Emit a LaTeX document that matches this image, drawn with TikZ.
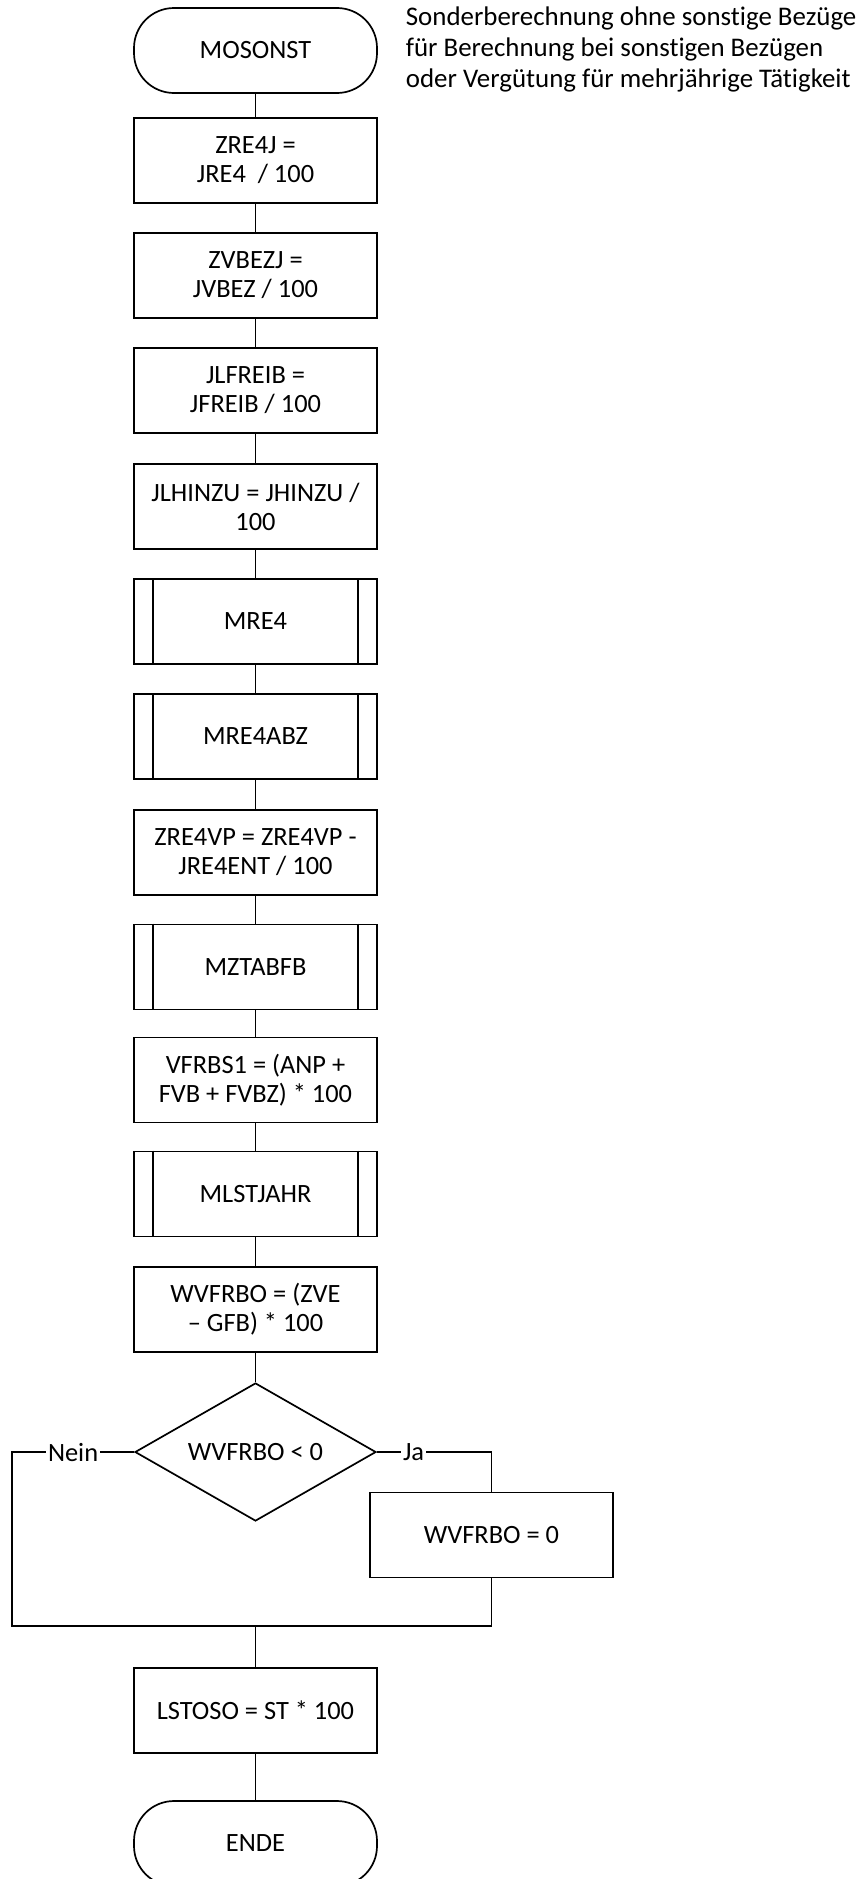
\documentclass[tikz,border=0pt]{standalone}
\usepackage{fontspec}
\setmainfont{Carlito}[Ligatures=NoCommon]
\usetikzlibrary{shapes.geometric}
\usetikzlibrary{calc}

\begin{document}
\begin{tikzpicture}[x=0.5pt,y=-0.5pt,line width=0.85pt,
	every node/.style={font=\fontsize{13.2}{14.5}\selectfont},
	box/.style={draw,shape=rectangle,minimum height=42.5pt,minimum width=121.5pt,align=center,inner sep=0pt},
	term/.style={draw,shape=rectangle,rounded corners=20pt,minimum height=42.5pt,minimum width=121.5pt,align=center},
	cond/.style={draw,shape=diamond,aspect=1.75,minimum height=69pt,minimum width=120.5pt,inner sep=0pt},
	lbl/.style={fill=white,inner sep=1pt}]
	\useasboundingbox (0,0) rectangle (861,1879);
	% main column
	\draw (255.5,50.5) node (start) [term] {MOSONST};
	\draw (405,49) node (note) [anchor=west,align=left,inner sep=0pt,font=\fontsize{13.45}{15.5}\selectfont] {Sonderberechnung ohne sonstige Bezüge\\für Berechnung bei sonstigen Bezügen\\oder Vergütung für mehrjährige Tätigkeit};
	\draw (255.5,160.5) node (b1) [box] {ZRE4J =\\JRE4\ \ / 100};
	\draw (255.5,275.5) node (b2) [box] {ZVBEZJ =\\JVBEZ / 100};
	\draw (255.5,390.5) node (b3) [box] {JLFREIB =\\JFREIB / 100};
	\draw (255.5,506.5) node (b4) [box] {JLHINZU = JHINZU /\\100};
	\draw (255.5,621.5) node (s1) [box] {MRE4};
	\draw (255.5,736.5) node (s2) [box] {MRE4ABZ};
	\draw (255.5,852.5) node (b5) [box] {ZRE4VP = ZRE4VP -\\JRE4ENT / 100};
	\draw (255.5,967) node (s3) [box] {MZTABFB};
	\draw (255.5,1080) node (b6) [box] {VFRBS1 = (ANP +\\FVB + FVBZ) * 100};
	\draw (255.5,1194) node (s4) [box] {MLSTJAHR};
	\draw (255.5,1309.5) node (b7) [box] {WVFRBO = (ZVE\\– GFB) * 100};
	\draw (255.5,1452) node (d) [cond] {WVFRBO < 0};
	\draw (491.5,1535) node (b8) [box] {WVFRBO = 0};
	\draw (255.5,1710.5) node (b9) [box] {LSTOSO = ST * 100};
	\draw (255.5,1843.5) node (end) [term] {ENDE};
	% subprocess bars
	\foreach \s in {s1,s2,s3,s4} {
		\draw ($(\s.north west)+(20,0)$) -- ($(\s.south west)+(20,0)$);
		\draw ($(\s.north east)+(-20,0)$) -- ($(\s.south east)+(-20,0)$);
	};
	\foreach \a/\b in {start/b1,b1/b2,b2/b3,b3/b4,b4/s1,s1/s2,s2/b5,b5/s3,s3/b6,b6/s4,s4/b7,b7/d} {
		\draw (\a) -- (\b);
	};
	% branches
	\coordinate (nein) at (12,1452);
	\coordinate (ja) at (491.5,1452);
	\coordinate (merge) at (255.5,1626);
	\draw (d.west) -- node[lbl] {Nein} (nein) |- (merge);
	\draw (d.east) -- node[lbl,pos=0.32] {Ja} (ja) -- (b8);
	\draw (b8) |- (merge);
	\draw (merge) -- (b9);
	\draw (b9) -- (end);
\end{tikzpicture}
\end{document}
